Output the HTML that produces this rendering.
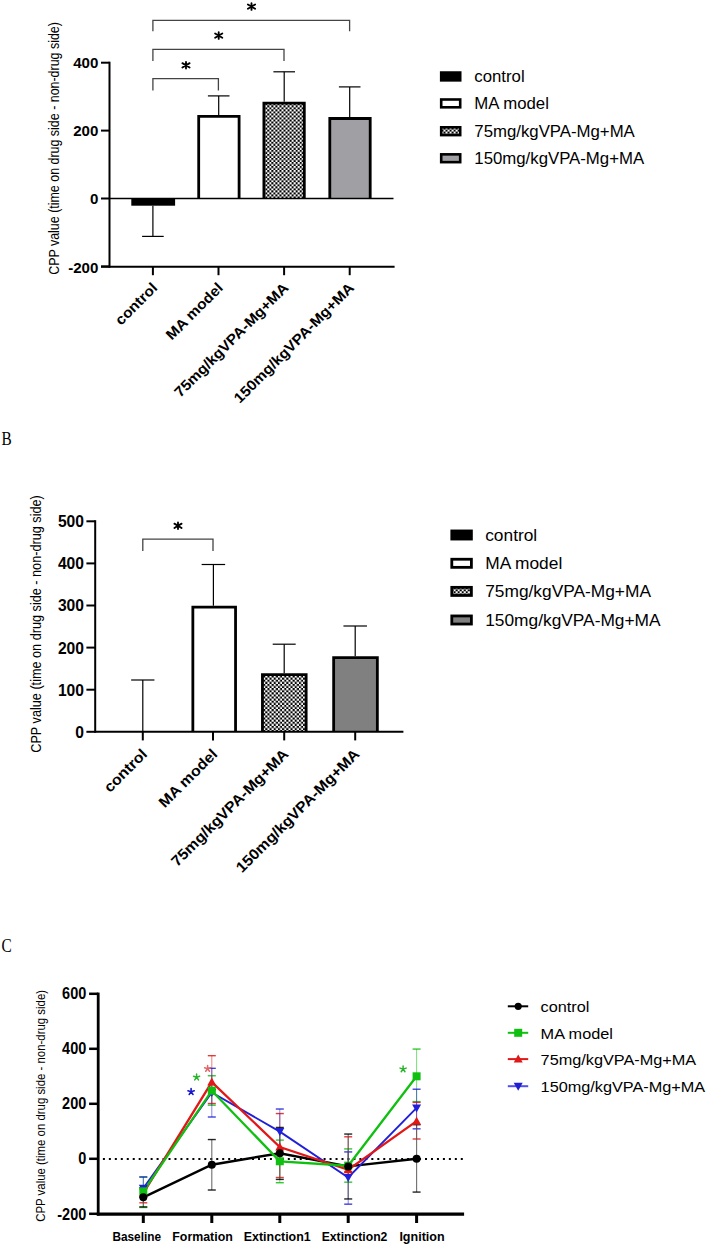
<!DOCTYPE html>
<html><head><meta charset="utf-8"><style>
html,body{margin:0;padding:0;background:#fff;}
body{width:709px;height:1245px;overflow:hidden;font-family:"Liberation Sans", sans-serif;}
svg{display:block;}
</style></head><body>
<svg width="709" height="1245" viewBox="0 0 709 1245">
<defs>
<pattern id="chk" x="0" y="0" width="4.05" height="4.05" patternUnits="userSpaceOnUse">
<rect width="4.05" height="4.05" fill="#fff"/><rect width="2.025" height="2.025" fill="#000"/><rect x="2.025" y="2.025" width="2.025" height="2.025" fill="#000"/>
</pattern>
<pattern id="chkB" x="265.3" y="675.5" width="4.2" height="4.2" patternUnits="userSpaceOnUse">
<rect width="4.2" height="4.2" fill="#fff"/><rect x="2.1" width="2.1" height="2.1" fill="#000"/><rect y="2.1" width="2.1" height="2.1" fill="#000"/>
</pattern>
</defs>
<rect width="709" height="1245" fill="#fff"/>
<line x1="109.5" y1="61.7" x2="109.5" y2="267.7" stroke="#000" stroke-width="2" />
<line x1="101" y1="62.7" x2="109.5" y2="62.7" stroke="#000" stroke-width="2" />
<text transform="translate(98.3,67.70) scale(1.04,1)" font-family='"Liberation Sans", sans-serif' font-size="14.5" font-weight="bold" text-anchor="end">400</text>
<line x1="101" y1="130.6" x2="109.5" y2="130.6" stroke="#000" stroke-width="2" />
<text transform="translate(98.3,135.60) scale(1.04,1)" font-family='"Liberation Sans", sans-serif' font-size="14.5" font-weight="bold" text-anchor="end">200</text>
<line x1="101" y1="198.5" x2="109.5" y2="198.5" stroke="#000" stroke-width="2" />
<text transform="translate(98.3,203.50) scale(1.04,1)" font-family='"Liberation Sans", sans-serif' font-size="14.5" font-weight="bold" text-anchor="end">0</text>
<line x1="101" y1="266.4" x2="109.5" y2="266.4" stroke="#000" stroke-width="2" />
<text transform="translate(98.3,272.90) scale(1.04,1)" font-family='"Liberation Sans", sans-serif' font-size="14.5" font-weight="bold" text-anchor="end">-200</text>
<line x1="101" y1="266.7" x2="394.6" y2="266.7" stroke="#000" stroke-width="2" />
<line x1="152.9" y1="266.7" x2="152.9" y2="275.2" stroke="#000" stroke-width="2" />
<line x1="218.5" y1="266.7" x2="218.5" y2="275.2" stroke="#000" stroke-width="2" />
<line x1="284.1" y1="266.7" x2="284.1" y2="275.2" stroke="#000" stroke-width="2" />
<line x1="349.7" y1="266.7" x2="349.7" y2="275.2" stroke="#000" stroke-width="2" />
<rect x="131.3" y="198.5" width="43.8" height="7.2" fill="#000" stroke="none" stroke-width="0"/>
<rect x="198.7" y="116.4" width="40.4" height="82.1" fill="#fff" stroke="none" stroke-width="0"/>
<polyline points="198.70,198.5 198.70,116.40 239.10,116.40 239.10,198.5" fill="none" stroke="#000" stroke-width="2.8" stroke-linejoin="miter"/>
<rect x="263.9" y="103.1" width="40.4" height="95.4" fill="url(#chk)" stroke="none" stroke-width="0"/>
<polyline points="263.90,198.5 263.90,103.10 304.30,103.10 304.30,198.5" fill="none" stroke="#000" stroke-width="2.8" stroke-linejoin="miter"/>
<rect x="329.8" y="118.5" width="40.4" height="80.0" fill="#a0a0a4" stroke="none" stroke-width="0"/>
<polyline points="329.80,198.5 329.80,118.50 370.20,118.50 370.20,198.5" fill="none" stroke="#000" stroke-width="2.8" stroke-linejoin="miter"/>
<line x1="109.5" y1="198.5" x2="393.5" y2="198.5" stroke="#000" stroke-width="1.5" />
<line x1="152.9" y1="205.7" x2="152.9" y2="236.4" stroke="#000" stroke-width="1.2" />
<line x1="142.1" y1="236.4" x2="163.7" y2="236.4" stroke="#000" stroke-width="1.2" />
<line x1="218.7" y1="115" x2="218.7" y2="95.9" stroke="#000" stroke-width="1.2" />
<line x1="207.9" y1="95.9" x2="229.5" y2="95.9" stroke="#000" stroke-width="1.2" />
<line x1="284.2" y1="101.7" x2="284.2" y2="71.8" stroke="#000" stroke-width="1.2" />
<line x1="273.4" y1="71.8" x2="295.0" y2="71.8" stroke="#000" stroke-width="1.2" />
<line x1="349.7" y1="117.1" x2="349.7" y2="86.9" stroke="#000" stroke-width="1.2" />
<line x1="338.9" y1="86.9" x2="360.5" y2="86.9" stroke="#000" stroke-width="1.2" />
<polyline points="152.9,31.3 152.9,20.3 349.6,20.3 349.6,31.3" fill="none" stroke="#444" stroke-width="1.3"/>
<polyline points="152.9,60.9 152.9,49.4 284.0,49.4 284.0,60.9" fill="none" stroke="#444" stroke-width="1.3"/>
<polyline points="152.9,90.6 152.9,78.7 218.4,78.7 218.4,90.6" fill="none" stroke="#444" stroke-width="1.3"/>
<path d="M251.5,3.28L251.5,9.92M247.90,4.44L255.10,8.76M247.90,8.76L255.10,4.44" stroke="#000" stroke-width="1.85" stroke-linecap="round" fill="none"/>
<path d="M218.7,32.28L218.7,38.92M215.10,33.44L222.30,37.76M215.10,37.76L222.30,33.44" stroke="#000" stroke-width="1.85" stroke-linecap="round" fill="none"/>
<path d="M186,61.98L186,68.62M182.40,63.14L189.60,67.46M182.40,67.46L189.60,63.14" stroke="#000" stroke-width="1.85" stroke-linecap="round" fill="none"/>
<text transform="translate(58.8,148.45) rotate(-90) scale(0.889,1)" font-family='"Liberation Sans", sans-serif' font-size="14" text-anchor="middle">CPP value (time on drug side - non-drug side)</text>
<text transform="translate(158.20,288.8) rotate(-45) scale(1.07,1)" font-family='"Liberation Sans", sans-serif' font-size="14.5" font-weight="bold" text-anchor="end">control</text>
<text transform="translate(223.8,288.8) rotate(-45) scale(1.07,1)" font-family='"Liberation Sans", sans-serif' font-size="14.5" font-weight="bold" text-anchor="end">MA model</text>
<text transform="translate(289.40,288.8) rotate(-45) scale(1.07,1)" font-family='"Liberation Sans", sans-serif' font-size="14.5" font-weight="bold" text-anchor="end">75mg/kgVPA-Mg+MA</text>
<text transform="translate(355.0,288.8) rotate(-45) scale(1.07,1)" font-family='"Liberation Sans", sans-serif' font-size="14.5" font-weight="bold" text-anchor="end">150mg/kgVPA-Mg+MA</text>
<rect x="439.9" y="71.25" width="21.6" height="10.4" fill="#000" stroke="none" stroke-width="0"/>
<text transform="translate(474.3,82.35) scale(1.03,1)" font-family='"Liberation Sans", sans-serif' font-size="16.3">control</text>
<rect x="441.2" y="99.5" width="19.0" height="7.8" fill="#fff" stroke="#000" stroke-width="2.6"/>
<text transform="translate(474.3,109.30) scale(1.03,1)" font-family='"Liberation Sans", sans-serif' font-size="16.3">MA model</text>
<rect x="441.2" y="127.3" width="19.0" height="7.8" fill="url(#chk)" stroke="#000" stroke-width="2.6"/>
<text transform="translate(474.3,137.1) scale(1.03,1)" font-family='"Liberation Sans", sans-serif' font-size="16.3">75mg/kgVPA-Mg+MA</text>
<rect x="441.2" y="154.35" width="19.0" height="7.8" fill="#a0a0a4" stroke="#000" stroke-width="2.6"/>
<text transform="translate(474.3,164.15) scale(1.03,1)" font-family='"Liberation Sans", sans-serif' font-size="16.3">150mg/kgVPA-Mg+MA</text>
<text x="1.5" y="445" font-family='"Liberation Serif", serif' font-size="18" transform="translate(1.5,445) scale(0.85,1) translate(-1.5,-445)">B</text>
<line x1="95.2" y1="520.2" x2="95.2" y2="732.8" stroke="#000" stroke-width="2" />
<line x1="86.4" y1="731.8" x2="95.2" y2="731.8" stroke="#000" stroke-width="2" />
<text transform="translate(84.0,737.72) scale(0.96,1)" font-family='"Liberation Sans", sans-serif' font-size="16.3" font-weight="bold" text-anchor="end">0</text>
<line x1="86.4" y1="689.7" x2="95.2" y2="689.7" stroke="#000" stroke-width="2" />
<text transform="translate(84.0,695.62) scale(0.96,1)" font-family='"Liberation Sans", sans-serif' font-size="16.3" font-weight="bold" text-anchor="end">100</text>
<line x1="86.4" y1="647.6" x2="95.2" y2="647.6" stroke="#000" stroke-width="2" />
<text transform="translate(84.0,653.52) scale(0.96,1)" font-family='"Liberation Sans", sans-serif' font-size="16.3" font-weight="bold" text-anchor="end">200</text>
<line x1="86.4" y1="605.5" x2="95.2" y2="605.5" stroke="#000" stroke-width="2" />
<text transform="translate(84.0,611.42) scale(0.96,1)" font-family='"Liberation Sans", sans-serif' font-size="16.3" font-weight="bold" text-anchor="end">300</text>
<line x1="86.4" y1="563.4" x2="95.2" y2="563.4" stroke="#000" stroke-width="2" />
<text transform="translate(84.0,569.32) scale(0.96,1)" font-family='"Liberation Sans", sans-serif' font-size="16.3" font-weight="bold" text-anchor="end">400</text>
<line x1="86.4" y1="521.3" x2="95.2" y2="521.3" stroke="#000" stroke-width="2" />
<text transform="translate(84.0,527.22) scale(0.96,1)" font-family='"Liberation Sans", sans-serif' font-size="16.3" font-weight="bold" text-anchor="end">500</text>
<rect x="192.85" y="607.1" width="42.7" height="124.7" fill="#fff" stroke="none" stroke-width="0"/>
<polyline points="192.85,731.8 192.85,607.10 235.55,607.10 235.55,731.8" fill="none" stroke="#000" stroke-width="2.8" stroke-linejoin="miter"/>
<rect x="262.45" y="674.7" width="43.7" height="57.1" fill="url(#chkB)" stroke="none" stroke-width="0"/>
<polyline points="262.45,731.8 262.45,674.70 306.15,674.70 306.15,731.8" fill="none" stroke="#000" stroke-width="2.8" stroke-linejoin="miter"/>
<rect x="333.65" y="657.6" width="43.7" height="74.2" fill="#808080" stroke="none" stroke-width="0"/>
<polyline points="333.65,731.8 333.65,657.60 377.35,657.60 377.35,731.8" fill="none" stroke="#000" stroke-width="2.8" stroke-linejoin="miter"/>
<line x1="95.2" y1="731.8" x2="403.4" y2="731.8" stroke="#000" stroke-width="2" />
<line x1="142.8" y1="731.8" x2="142.8" y2="740.4" stroke="#000" stroke-width="2" />
<line x1="213.0" y1="731.8" x2="213.0" y2="740.4" stroke="#000" stroke-width="2" />
<line x1="284.2" y1="731.8" x2="284.2" y2="740.4" stroke="#000" stroke-width="2" />
<line x1="355.2" y1="731.8" x2="355.2" y2="740.4" stroke="#000" stroke-width="2" />
<line x1="142.8" y1="731.8" x2="142.8" y2="680" stroke="#000" stroke-width="1.2" />
<line x1="131.15" y1="680" x2="154.45" y2="680" stroke="#000" stroke-width="1.2" />
<line x1="213.4" y1="605.7" x2="213.4" y2="564.5" stroke="#000" stroke-width="1.2" />
<line x1="201.65" y1="564.5" x2="225.15" y2="564.5" stroke="#000" stroke-width="1.2" />
<line x1="284.2" y1="673.3" x2="284.2" y2="644.2" stroke="#000" stroke-width="1.2" />
<line x1="272.7" y1="644.2" x2="295.7" y2="644.2" stroke="#000" stroke-width="1.2" />
<line x1="355.2" y1="656.2" x2="355.2" y2="626" stroke="#000" stroke-width="1.2" />
<line x1="343.45" y1="626" x2="366.95" y2="626" stroke="#000" stroke-width="1.2" />
<polyline points="142.8,551.0 142.8,539.1 213.0,539.1 213.0,551.0" fill="none" stroke="#444" stroke-width="1.3"/>
<path d="M178,522.48L178,529.12M174.40,523.64L181.60,527.96M174.40,527.96L181.60,523.64" stroke="#000" stroke-width="1.85" stroke-linecap="round" fill="none"/>
<text transform="translate(41.1,624.0) rotate(-90) scale(0.906,1)" font-family='"Liberation Sans", sans-serif' font-size="14" text-anchor="middle">CPP value (time on drug side - non-drug side)</text>
<text transform="translate(148.10,755) rotate(-45) scale(1.07,1)" font-family='"Liberation Sans", sans-serif' font-size="14.9" font-weight="bold" text-anchor="end">control</text>
<text transform="translate(218.3,755) rotate(-45) scale(1.07,1)" font-family='"Liberation Sans", sans-serif' font-size="14.9" font-weight="bold" text-anchor="end">MA model</text>
<text transform="translate(289.5,755) rotate(-45) scale(1.07,1)" font-family='"Liberation Sans", sans-serif' font-size="14.9" font-weight="bold" text-anchor="end">75mg/kgVPA-Mg+MA</text>
<text transform="translate(360.5,755) rotate(-45) scale(1.07,1)" font-family='"Liberation Sans", sans-serif' font-size="14.9" font-weight="bold" text-anchor="end">150mg/kgVPA-Mg+MA</text>
<rect x="450.4" y="529.55" width="22.4" height="10.9" fill="#000" stroke="none" stroke-width="0"/>
<text transform="translate(485.2,541.0) scale(1.02,1)" font-family='"Liberation Sans", sans-serif' font-size="17">control</text>
<rect x="451.8" y="559.25" width="19.6" height="8.1" fill="#fff" stroke="#000" stroke-width="2.8"/>
<text transform="translate(485.2,569.3) scale(1.02,1)" font-family='"Liberation Sans", sans-serif' font-size="17">MA model</text>
<rect x="451.8" y="587.35" width="19.6" height="8.1" fill="url(#chk)" stroke="#000" stroke-width="2.8"/>
<text transform="translate(485.2,597.4) scale(1.02,1)" font-family='"Liberation Sans", sans-serif' font-size="17">75mg/kgVPA-Mg+MA</text>
<rect x="451.8" y="615.95" width="19.6" height="8.1" fill="#808080" stroke="#000" stroke-width="2.8"/>
<text transform="translate(485.2,626.0) scale(1.02,1)" font-family='"Liberation Sans", sans-serif' font-size="17">150mg/kgVPA-Mg+MA</text>
<text x="1.5" y="952.5" font-family='"Liberation Serif", serif' font-size="18" transform="translate(1.5,952.5) scale(0.85,1) translate(-1.5,-952.5)">C</text>
<line x1="98.2" y1="992.6" x2="98.2" y2="1215.6" stroke="#000" stroke-width="2.8" />
<line x1="89.1" y1="993.8" x2="98.2" y2="993.8" stroke="#000" stroke-width="2.5" />
<text transform="translate(86.3,999.28) scale(0.93,1)" font-family='"Liberation Sans", sans-serif' font-size="15.6" font-weight="bold" text-anchor="end">600</text>
<line x1="89.1" y1="1048.8" x2="98.2" y2="1048.8" stroke="#000" stroke-width="2.5" />
<text transform="translate(86.3,1054.28) scale(0.93,1)" font-family='"Liberation Sans", sans-serif' font-size="15.6" font-weight="bold" text-anchor="end">400</text>
<line x1="89.1" y1="1103.8" x2="98.2" y2="1103.8" stroke="#000" stroke-width="2.5" />
<text transform="translate(86.3,1109.28) scale(0.93,1)" font-family='"Liberation Sans", sans-serif' font-size="15.6" font-weight="bold" text-anchor="end">200</text>
<line x1="89.1" y1="1158.8" x2="98.2" y2="1158.8" stroke="#000" stroke-width="2.5" />
<text transform="translate(86.3,1164.28) scale(0.93,1)" font-family='"Liberation Sans", sans-serif' font-size="15.6" font-weight="bold" text-anchor="end">0</text>
<line x1="89.1" y1="1213.8" x2="98.2" y2="1213.8" stroke="#000" stroke-width="2.5" />
<text transform="translate(86.3,1220.28) scale(0.93,1)" font-family='"Liberation Sans", sans-serif' font-size="15.6" font-weight="bold" text-anchor="end">-200</text>
<line x1="96.8" y1="1214.1" x2="464.1" y2="1214.1" stroke="#000" stroke-width="3.2" />
<line x1="143.3" y1="1214" x2="143.3" y2="1223" stroke="#000" stroke-width="3" />
<line x1="211.8" y1="1214" x2="211.8" y2="1223" stroke="#000" stroke-width="3" />
<line x1="279.8" y1="1214" x2="279.8" y2="1223" stroke="#000" stroke-width="3" />
<line x1="348.2" y1="1214" x2="348.2" y2="1223" stroke="#000" stroke-width="3" />
<line x1="416.6" y1="1214" x2="416.6" y2="1223" stroke="#000" stroke-width="3" />
<line x1="102.9" y1="1158.90" x2="462.9" y2="1158.90" stroke="#000" stroke-width="2" stroke-dasharray="2,3.965"/>
<text transform="translate(45.0,1105.9) rotate(-90) scale(0.865,1)" font-family='"Liberation Sans", sans-serif' font-size="13.2" text-anchor="middle">CPP value (time on drug side - non-drug side)</text>
<text x="112.4" y="1240.6" font-family='"Liberation Sans", sans-serif' font-size="12" font-weight="bold" textLength="48.6" lengthAdjust="spacingAndGlyphs">Baseline</text>
<text x="172.3" y="1240.6" font-family='"Liberation Sans", sans-serif' font-size="12" font-weight="bold" textLength="60.5" lengthAdjust="spacingAndGlyphs">Formation</text>
<text x="243.8" y="1240.6" font-family='"Liberation Sans", sans-serif' font-size="12" font-weight="bold" textLength="66.9" lengthAdjust="spacingAndGlyphs">Extinction1</text>
<text x="321.7" y="1240.6" font-family='"Liberation Sans", sans-serif' font-size="12" font-weight="bold" textLength="65.7" lengthAdjust="spacingAndGlyphs">Extinction2</text>
<text x="399.4" y="1240.6" font-family='"Liberation Sans", sans-serif' font-size="12" font-weight="bold" textLength="45.2" lengthAdjust="spacingAndGlyphs">Ignition</text>
<line x1="143.3" y1="1177.09" x2="143.3" y2="1207.47" stroke="#10c010" stroke-width="1" opacity="0.55"/>
<line x1="139.3" y1="1177.09" x2="147.3" y2="1177.09" stroke="#10c010" stroke-width="1.4" opacity="0.85"/>
<line x1="139.3" y1="1207.47" x2="147.3" y2="1207.47" stroke="#10c010" stroke-width="1.4" opacity="0.85"/>
<line x1="211.8" y1="1075.75" x2="211.8" y2="1105.17" stroke="#10c010" stroke-width="1" opacity="0.55"/>
<line x1="207.8" y1="1075.75" x2="215.8" y2="1075.75" stroke="#10c010" stroke-width="1.4" opacity="0.85"/>
<line x1="207.8" y1="1105.17" x2="215.8" y2="1105.17" stroke="#10c010" stroke-width="1.4" opacity="0.85"/>
<line x1="279.8" y1="1140.1" x2="279.8" y2="1182.72" stroke="#10c010" stroke-width="1" opacity="0.55"/>
<line x1="275.8" y1="1140.1" x2="283.8" y2="1140.1" stroke="#10c010" stroke-width="1.4" opacity="0.85"/>
<line x1="275.8" y1="1182.72" x2="283.8" y2="1182.72" stroke="#10c010" stroke-width="1.4" opacity="0.85"/>
<line x1="348.2" y1="1148.9" x2="348.2" y2="1182.17" stroke="#10c010" stroke-width="1" opacity="0.55"/>
<line x1="344.2" y1="1148.9" x2="352.2" y2="1148.9" stroke="#10c010" stroke-width="1.4" opacity="0.85"/>
<line x1="344.2" y1="1182.17" x2="352.2" y2="1182.17" stroke="#10c010" stroke-width="1.4" opacity="0.85"/>
<line x1="416.6" y1="1049.08" x2="416.6" y2="1101.6" stroke="#10c010" stroke-width="1" opacity="0.55"/>
<line x1="412.6" y1="1049.08" x2="420.6" y2="1049.08" stroke="#10c010" stroke-width="1.4" opacity="0.85"/>
<line x1="412.6" y1="1101.6" x2="420.6" y2="1101.6" stroke="#10c010" stroke-width="1.4" opacity="0.85"/>
<line x1="143.3" y1="1189.05" x2="143.3" y2="1202.8" stroke="#e01818" stroke-width="1" opacity="0.55"/>
<line x1="139.3" y1="1189.05" x2="147.3" y2="1189.05" stroke="#e01818" stroke-width="1.4" opacity="0.85"/>
<line x1="139.3" y1="1202.8" x2="147.3" y2="1202.8" stroke="#e01818" stroke-width="1.4" opacity="0.85"/>
<line x1="211.8" y1="1055.67" x2="211.8" y2="1103.52" stroke="#e01818" stroke-width="1" opacity="0.55"/>
<line x1="207.8" y1="1055.67" x2="215.8" y2="1055.67" stroke="#e01818" stroke-width="1.4" opacity="0.85"/>
<line x1="207.8" y1="1103.52" x2="215.8" y2="1103.52" stroke="#e01818" stroke-width="1.4" opacity="0.85"/>
<line x1="279.8" y1="1113.56" x2="279.8" y2="1177.5" stroke="#e01818" stroke-width="1" opacity="0.55"/>
<line x1="275.8" y1="1113.56" x2="283.8" y2="1113.56" stroke="#e01818" stroke-width="1.4" opacity="0.85"/>
<line x1="275.8" y1="1177.5" x2="283.8" y2="1177.5" stroke="#e01818" stroke-width="1.4" opacity="0.85"/>
<line x1="348.2" y1="1136.8" x2="348.2" y2="1171.45" stroke="#e01818" stroke-width="1" opacity="0.55"/>
<line x1="344.2" y1="1136.8" x2="352.2" y2="1136.8" stroke="#e01818" stroke-width="1.4" opacity="0.85"/>
<line x1="344.2" y1="1171.45" x2="352.2" y2="1171.45" stroke="#e01818" stroke-width="1.4" opacity="0.85"/>
<line x1="416.6" y1="1102.42" x2="416.6" y2="1139.0" stroke="#e01818" stroke-width="1" opacity="0.55"/>
<line x1="412.6" y1="1102.42" x2="420.6" y2="1102.42" stroke="#e01818" stroke-width="1.4" opacity="0.85"/>
<line x1="412.6" y1="1139.0" x2="420.6" y2="1139.0" stroke="#e01818" stroke-width="1.4" opacity="0.85"/>
<line x1="143.3" y1="1176.95" x2="143.3" y2="1197.3" stroke="#2020d8" stroke-width="1" opacity="0.55"/>
<line x1="139.3" y1="1176.95" x2="147.3" y2="1176.95" stroke="#2020d8" stroke-width="1.4" opacity="0.85"/>
<line x1="139.3" y1="1197.3" x2="147.3" y2="1197.3" stroke="#2020d8" stroke-width="1.4" opacity="0.85"/>
<line x1="211.8" y1="1068.33" x2="211.8" y2="1117.0" stroke="#2020d8" stroke-width="1" opacity="0.55"/>
<line x1="207.8" y1="1068.33" x2="215.8" y2="1068.33" stroke="#2020d8" stroke-width="1.4" opacity="0.85"/>
<line x1="207.8" y1="1117.0" x2="215.8" y2="1117.0" stroke="#2020d8" stroke-width="1.4" opacity="0.85"/>
<line x1="279.8" y1="1109.02" x2="279.8" y2="1153.3" stroke="#2020d8" stroke-width="1" opacity="0.55"/>
<line x1="275.8" y1="1109.02" x2="283.8" y2="1109.02" stroke="#2020d8" stroke-width="1.4" opacity="0.85"/>
<line x1="275.8" y1="1153.3" x2="283.8" y2="1153.3" stroke="#2020d8" stroke-width="1.4" opacity="0.85"/>
<line x1="348.2" y1="1151.92" x2="348.2" y2="1204.17" stroke="#2020d8" stroke-width="1" opacity="0.55"/>
<line x1="344.2" y1="1151.92" x2="352.2" y2="1151.92" stroke="#2020d8" stroke-width="1.4" opacity="0.85"/>
<line x1="344.2" y1="1204.17" x2="352.2" y2="1204.17" stroke="#2020d8" stroke-width="1.4" opacity="0.85"/>
<line x1="416.6" y1="1089.22" x2="416.6" y2="1128.83" stroke="#2020d8" stroke-width="1" opacity="0.55"/>
<line x1="412.6" y1="1089.22" x2="420.6" y2="1089.22" stroke="#2020d8" stroke-width="1.4" opacity="0.85"/>
<line x1="412.6" y1="1128.83" x2="420.6" y2="1128.83" stroke="#2020d8" stroke-width="1.4" opacity="0.85"/>
<line x1="143.3" y1="1187.67" x2="143.3" y2="1206.92" stroke="#555" stroke-width="1.1" opacity="0.85"/>
<line x1="139.3" y1="1187.67" x2="147.3" y2="1187.67" stroke="#000" stroke-width="1.4" opacity="0.85"/>
<line x1="139.3" y1="1206.92" x2="147.3" y2="1206.92" stroke="#000" stroke-width="1.4" opacity="0.85"/>
<line x1="211.8" y1="1139.55" x2="211.8" y2="1190.01" stroke="#555" stroke-width="1.1" opacity="0.85"/>
<line x1="207.8" y1="1139.55" x2="215.8" y2="1139.55" stroke="#000" stroke-width="1.4" opacity="0.85"/>
<line x1="207.8" y1="1190.01" x2="215.8" y2="1190.01" stroke="#000" stroke-width="1.4" opacity="0.85"/>
<line x1="279.8" y1="1127.45" x2="279.8" y2="1179.42" stroke="#555" stroke-width="1.1" opacity="0.85"/>
<line x1="275.8" y1="1127.45" x2="283.8" y2="1127.45" stroke="#000" stroke-width="1.4" opacity="0.85"/>
<line x1="275.8" y1="1179.42" x2="283.8" y2="1179.42" stroke="#000" stroke-width="1.4" opacity="0.85"/>
<line x1="348.2" y1="1134.05" x2="348.2" y2="1198.95" stroke="#555" stroke-width="1.1" opacity="0.85"/>
<line x1="344.2" y1="1134.05" x2="352.2" y2="1134.05" stroke="#000" stroke-width="1.4" opacity="0.85"/>
<line x1="344.2" y1="1198.95" x2="352.2" y2="1198.95" stroke="#000" stroke-width="1.4" opacity="0.85"/>
<line x1="416.6" y1="1124.7" x2="416.6" y2="1192.08" stroke="#555" stroke-width="1.1" opacity="0.85"/>
<line x1="412.6" y1="1124.7" x2="420.6" y2="1124.7" stroke="#000" stroke-width="1.4" opacity="0.85"/>
<line x1="412.6" y1="1192.08" x2="420.6" y2="1192.08" stroke="#000" stroke-width="1.4" opacity="0.85"/>
<polyline points="143.3,1197.3 211.8,1164.7 279.8,1153.2 348.2,1166.4 416.6,1158.8" fill="none" stroke="#000" stroke-width="2.4"/>
<polyline points="143.3,1188.2 211.8,1092.5 279.8,1131.6 348.2,1177.5 416.6,1107.9" fill="none" stroke="#2020d8" stroke-width="1.9"/>
<polyline points="143.3,1193.2 211.8,1082.1 279.8,1147.0 348.2,1169.8 416.6,1121.1" fill="none" stroke="#e01818" stroke-width="2.3"/>
<polyline points="143.3,1191.4 211.8,1090.7 279.8,1161.3 348.2,1165.7 416.6,1076.3" fill="none" stroke="#10c010" stroke-width="2.3"/>
<polygon points="143.3,1192.725 147.8,1184.725 138.8,1184.725" fill="#2020d8"/>
<polygon points="211.8,1097.02 216.3,1089.02 207.3,1089.02" fill="#2020d8"/>
<polygon points="279.8,1136.075 284.3,1128.075 275.3,1128.075" fill="#2020d8"/>
<polygon points="348.2,1182.0 352.7,1174.0 343.7,1174.0" fill="#2020d8"/>
<polygon points="416.6,1112.425 421.1,1104.425 412.1,1104.425" fill="#2020d8"/>
<polygon points="143.3,1188.675 147.8,1196.675 138.8,1196.675" fill="#e01818"/>
<polygon points="211.8,1077.575 216.3,1085.575 207.3,1085.575" fill="#e01818"/>
<polygon points="279.8,1142.475 284.3,1150.475 275.3,1150.475" fill="#e01818"/>
<polygon points="348.2,1165.3 352.7,1173.3 343.7,1173.3" fill="#e01818"/>
<polygon points="416.6,1116.625 421.1,1124.625 412.1,1124.625" fill="#e01818"/>
<rect x="139.3" y="1187.3875" width="8" height="8" fill="#10c010"/>
<rect x="207.8" y="1086.71" width="8" height="8" fill="#10c010"/>
<rect x="275.8" y="1157.27" width="8" height="8" fill="#10c010"/>
<rect x="344.2" y="1161.675" width="8" height="8" fill="#10c010"/>
<rect x="412.6" y="1072.3" width="8" height="8" fill="#10c010"/>
<circle cx="143.3" cy="1197.3" r="4" fill="#000"/>
<circle cx="211.8" cy="1164.71" r="4" fill="#000"/>
<circle cx="279.8" cy="1153.1625" r="4" fill="#000"/>
<circle cx="348.2" cy="1166.39" r="4" fill="#000"/>
<circle cx="416.6" cy="1158.8" r="4" fill="#000"/>
<path d="M207.60,1068.70L207.60,1065.50M207.60,1068.70L210.64,1067.71M207.60,1068.70L209.48,1071.29M207.60,1068.70L205.72,1071.29M207.60,1068.70L204.56,1067.71" stroke="#e06868" stroke-width="1.5" stroke-linecap="round" fill="none"/>
<path d="M196.60,1077.30L196.60,1074.10M196.60,1077.30L199.64,1076.31M196.60,1077.30L198.48,1079.89M196.60,1077.30L194.72,1079.89M196.60,1077.30L193.56,1076.31" stroke="#28b428" stroke-width="1.5" stroke-linecap="round" fill="none"/>
<path d="M191.10,1091.80L191.10,1088.50M191.10,1091.80L194.24,1090.78M191.10,1091.80L193.04,1094.47M191.10,1091.80L189.16,1094.47M191.10,1091.80L187.96,1090.78" stroke="#1818c8" stroke-width="1.6" stroke-linecap="round" fill="none"/>
<path d="M403.10,1069.10L403.10,1065.90M403.10,1069.10L406.14,1068.11M403.10,1069.10L404.98,1071.69M403.10,1069.10L401.22,1071.69M403.10,1069.10L400.06,1068.11" stroke="#28b428" stroke-width="1.5" stroke-linecap="round" fill="none"/>
<line x1="507.8" y1="1006.3" x2="528.2" y2="1006.3" stroke="#000" stroke-width="2" />
<circle cx="518.2" cy="1006.3" r="3.6" fill="#000"/>
<text transform="translate(540.6,1012.20) scale(1.05,1)" font-family='"Liberation Sans", sans-serif' font-size="15.5">control</text>
<line x1="507.8" y1="1032.8" x2="528.2" y2="1032.8" stroke="#10c010" stroke-width="2" />
<rect x="514.2" y="1028.8" width="8" height="8" fill="#10c010"/>
<text transform="translate(540.6,1038.7) scale(1.05,1)" font-family='"Liberation Sans", sans-serif' font-size="15.5">MA model</text>
<line x1="507.8" y1="1059.1" x2="528.2" y2="1059.1" stroke="#e01818" stroke-width="2" />
<polygon points="518.2,1054.6 522.7,1062.6 513.7,1062.6" fill="#e01818"/>
<text transform="translate(540.6,1065.0) scale(1.05,1)" font-family='"Liberation Sans", sans-serif' font-size="15.5">75mg/kgVPA-Mg+MA</text>
<line x1="507.8" y1="1086.2" x2="528.2" y2="1086.2" stroke="#5050f0" stroke-width="2" />
<polygon points="518.2,1090.7 522.7,1082.7 513.7,1082.7" fill="#2020d0"/>
<text transform="translate(540.6,1092.10) scale(1.05,1)" font-family='"Liberation Sans", sans-serif' font-size="15.5">150mg/kgVPA-Mg+MA</text>
</svg>
</body></html>
